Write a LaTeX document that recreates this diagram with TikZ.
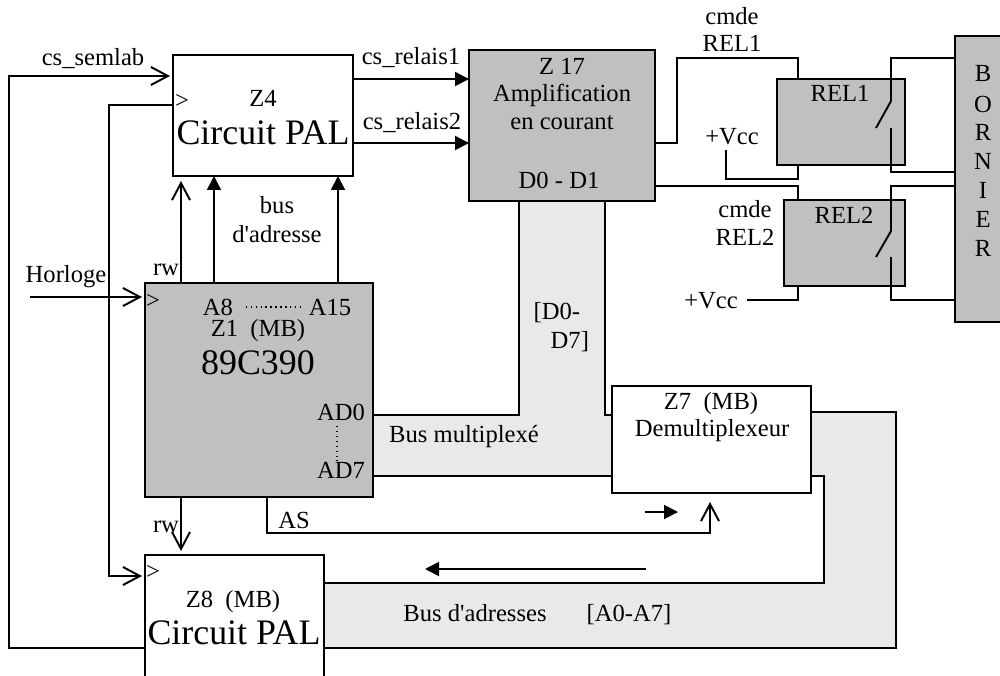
\documentclass[tikz,border=0pt]{standalone}
\usepackage{fontspec}
\setmainfont{Liberation Serif}
\usetikzlibrary{arrows.meta}
\definecolor{boxgray}{HTML}{C0C0C0}
\definecolor{busgray}{HTML}{E9E9E9}
\tikzset{
    wire/.style={line width=0.55pt},
    openarrow/.style={wire,-{Straight Barb[length=0.17cm,width=0.18cm]}},
    fullarrow/.style={wire,-{Triangle[length=0.14cm,width=0.14cm]}},
    block/.style={draw,line width=0.7pt,inner sep=0pt,outer sep=0pt},
    whitebox/.style={block,fill=white},
    graybox/.style={block,fill=boxgray},
    lab/.style={inner sep=0pt},
    biglab/.style={inner sep=0pt,font=\fontsize{10.2}{12}\selectfont}
}
\begin{document}
\begin{tikzpicture}[font=\fontsize{7}{8.4}\selectfont]
    \clip (0,0) rectangle (10,6.75);
    \fill[white] (0,0) rectangle (10,6.75);

    % bus areas
    \fill[busgray] (3.73,2.60) -- (5.19,2.60) -- (5.19,4.74) -- (6.05,4.74) -- (6.05,2.60)
        -- (6.12,2.60) -- (6.12,1.99) -- (3.73,1.99) -- cycle;
    \fill[busgray] (3.24,0.27) -- (8.96,0.27) -- (8.96,2.63) -- (8.11,2.63) -- (8.11,1.99)
        -- (8.24,1.99) -- (8.24,0.92) -- (3.24,0.92) -- cycle;

    % blocks
    \node[whitebox,minimum width=1.8cm,minimum height=1.21cm] (z4) at (2.63,5.595) {};
    \node[graybox,line width=0.55pt,minimum width=1.86cm,minimum height=1.51cm] (z17) at (5.62,5.495) {};
    \node[graybox,minimum width=2.28cm,minimum height=2.14cm] (z1) at (2.59,2.85) {};
    \node[whitebox,line width=0.55pt,minimum width=1.99cm,minimum height=1.07cm] (z7) at (7.115,2.355) {};
    \node[whitebox,minimum width=1.79cm,minimum height=1.5cm] (z8) at (2.345,0.45) {};
    \node[graybox,minimum width=1.28cm,minimum height=0.86cm] (rel1) at (8.41,5.53) {};
    \node[graybox,minimum width=1.21cm,minimum height=0.86cm] (rel2) at (8.445,4.32) {};
    \node[graybox,minimum width=0.75cm,minimum height=2.86cm] (bornier) at (9.925,4.96) {};

    % labels
    \node[lab] (lsemlab) at (0.93,6.16) {cs\_semlab};
    \node[lab] (lrelais1) at (4.11,6.17) {cs\_relais1};
    \node[lab] (lrelais2) at (4.12,5.52) {cs\_relais2};
    \node[lab] (lz4) at (2.63,5.77) {Z4};
    \node[biglab] (lpal1) at (2.63,5.42) {Circuit PAL};
    \node[lab] (lbus) at (2.77,4.70) {bus};
    \node[lab] (ladr) at (2.77,4.41) {d\textquotesingle adresse};
    \node[lab] (lrw1) at (1.66,4.05) {rw};
    \node[lab] (lhor) at (0.66,3.98) {Horloge};
    \node[lab] (la8) at (2.18,3.68) {A8};
    \node[lab] (la15) at (3.30,3.68) {A15};
    \node[lab] (lz1) at (2.58,3.44) {Z1~~(MB)};
    \node[biglab] (lcpu) at (2.58,3.12) {89C390};
    \node[lab] (lad0) at (3.41,2.63) {AD0};
    \node[lab] (lad7) at (3.41,2.05) {AD7};
    \node[lab] (lmux) at (4.64,2.38) {Bus multiplexé};
    \node[lab,anchor=west] (ld0) at (5.33,3.62) {[D0-};
    \node[lab,anchor=west] (ld7) at (5.50,3.33) {D7]};
    \node[lab] (las) at (2.94,1.55) {AS};
    \node[lab] (lrw2) at (1.66,1.48) {rw};
    \node[lab] (lz8) at (2.33,0.73) {Z8~~(MB)};
    \node[biglab] (lpal2) at (2.34,0.42) {Circuit PAL};
    \node[lab] (ladrs) at (4.75,0.62) {Bus d\textquotesingle adresses};
    \node[lab] (lab07) at (6.29,0.60) {[A0-A7]};
    \node[lab] (lz7) at (7.11,2.71) {Z7~~(MB)};
    \node[lab] (ldemux) at (7.12,2.44) {Demultiplexeur};
    \node[lab] (lz17) at (5.62,6.09) {Z 17};
    \node[lab] (lamp) at (5.62,5.80) {Amplification};
    \node[lab] (lcour) at (5.62,5.52) {en courant};
    \node[lab] (ld01) at (5.59,4.95) {D0 - D1};
    \node[lab] (lcmde1) at (7.32,6.59) {cmde};
    \node[lab] (lrcmd1) at (7.32,6.32) {REL1};
    \node[lab] (lrel1) at (8.40,5.82) {REL1};
    \node[lab] (lvcc1) at (7.32,5.38) {+Vcc};
    \node[lab] (lcmde2) at (7.45,4.66) {cmde};
    \node[lab] (lrcmd2) at (7.45,4.38) {REL2};
    \node[lab] (lrel2) at (8.44,4.60) {REL2};
    \node[lab] (lvcc2) at (7.11,3.74) {+Vcc};
    \foreach \c/\y/\i in {B/6.02/1, O/5.71/2, R/5.43/3, N/5.14/4, I/4.85/5, E/4.56/6, R/4.27/7}
        \node[lab] (born\i) at (9.83,\y) {\c};
    % clock marks
    \node[lab] (ck4) at (1.82,5.74) {>};
    \node[lab] (ck1) at (1.53,3.74) {>};
    \node[lab] (ck8) at (1.53,1.03) {>};

    % free ends
    \coordinate (hstart) at (0.30,3.78);
    \coordinate (vcc1) at (7.26,5.25);
    \coordinate (vcc2) at (7.47,3.75);
    \coordinate (fleche1a) at (6.45,1.63);
    \coordinate (fleche1b) at (6.78,1.63);
    \coordinate (fleche2a) at (6.46,1.06);
    \coordinate (fleche2b) at (4.25,1.06);

    % inputs of Z4 and Z8
    \draw[openarrow,shorten >=0.03cm] (z8.west |- 0,0.27) -- (0.09,0.27) -- (0.09,5.99) -- (z4.west |- 0,5.99);
    \draw[openarrow,shorten >=0.03cm] (z4.west |- 0,5.70) -- (1.09,5.70) -- (1.09,0.99) -- (z8.west |- 0,0.99);
    \draw[openarrow,shorten >=0.03cm] (hstart) -- (hstart -| z1.west);
    \draw[fullarrow] (3.54,5.96) -- (3.54,5.96 -| z17.west);
    \draw[fullarrow] (3.54,5.32) -- (3.54,5.32 -| z17.west);

    % from the 89C390
    \draw[openarrow,shorten >=0.05cm] (1.81,0 |- z1.north) -- (1.81,0 |- z4.south);
    \draw[openarrow,shorten >=0.04cm] (1.81,0 |- z1.south) -- (1.81,0 |- z8.north);
    \draw[fullarrow] (2.14,0 |- z1.north) -- (2.14,0 |- z4.south);
    \draw[fullarrow] (3.38,0 |- z1.north) -- (3.38,0 |- z4.south);
    \draw[openarrow,shorten >=0.09cm] (2.67,0 |- z1.south) -- (2.67,1.42) -- (7.10,1.42) -- (7.10,0 |- z7.south);
    \draw[fullarrow] (fleche1a) -- (fleche1b);
    \draw[fullarrow] (fleche2a) -- (fleche2b);
    \draw[densely dotted,thin,shorten <=0.12cm,shorten >=0.06cm] (la8.east) -- (la15.west);
    \draw[densely dotted,thin] (3.37,2.49) -- (3.37,2.14);

    % bus edges
    \draw[wire] (z1.east |- 0,2.60) -- (5.19,2.60) -- (5.19,0 |- z17.south);
    \draw[wire] (6.05,0 |- z17.south) -- (6.05,2.60) -- (z7.west |- 0,2.60);
    \draw[wire] (z1.east |- 0,1.99) -- (z7.west |- 0,1.99);
    \draw[wire] (z7.east |- 0,2.63) -- (8.96,2.63) -- (8.96,0.27) -- (z8.east |- 0,0.27);
    \draw[wire] (z7.east |- 0,1.99) -- (8.24,1.99) -- (8.24,0.92) -- (z8.east |- 0,0.92);

    % relays
    \draw[wire] (z17.east |- 0,5.32) -- (6.77,5.32) -- (6.77,6.17) -- (7.98,6.17) -- (7.98,0 |- rel1.north);
    \draw[wire] (vcc1) -- (7.26,4.96) -- (7.98,4.96) -- (7.98,0 |- rel1.south);
    \draw[wire] (z17.east |- 0,4.89) -- (7.98,4.89) -- (7.98,0 |- rel2.north);
    \draw[wire] (vcc2) -- (7.98,3.75) -- (7.98,0 |- rel2.south);
    \foreach \yt/\yc/\yo/\yb in {6.17/5.74/5.47/5.03, 4.89/4.44/4.18/3.75}
    {
        \draw[wire] (bornier.west |- 0,\yt) -- (8.91,\yt) -- (8.91,\yc) -- (8.76,\yo);
        \draw[wire] (8.91,\yo) -- (8.91,\yb) -- (bornier.west |- 0,\yb);
    }
\end{tikzpicture}
\end{document}
